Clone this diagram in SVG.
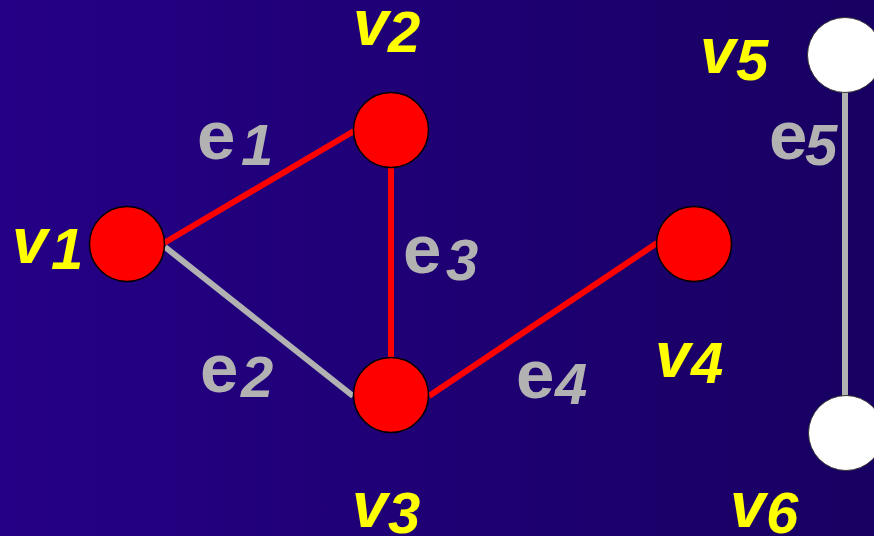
<svg xmlns="http://www.w3.org/2000/svg" width="874" height="536" viewBox="0 0 874 536">
<defs>
<linearGradient id="bg" x1="0" y1="0" x2="1" y2="0">
<stop offset="0" stop-color="#250086"/>
<stop offset="1" stop-color="#180062"/>
</linearGradient>
</defs>
<style>
.red{stroke:#ff0000;stroke-width:6;fill:none}
.gray{stroke:#b2b2b2;stroke-width:6;fill:none}
.rn{fill:#ff0000;stroke:#000;stroke-width:1.5}
.wn{fill:#ffffff;stroke:#333;stroke-width:1}
.lbl{font-family:"Liberation Sans","DejaVu Sans",sans-serif;font-weight:bold}
.vl{fill:#ffff00}
.el{fill:#b2b2b2}
.let{font-size:64px}
.el .let{font-size:69px}
.vl .let{font-style:italic}
.dig{font-size:58px;font-style:italic}
</style>
<rect width="874" height="536" fill="url(#bg)"/>
<g id="connectors">
<line class="red" x1="164" y1="243" x2="354" y2="131"/>
<line class="gray" x1="165" y1="247" x2="353" y2="396"/>
<line class="red" x1="391" y1="168" x2="391" y2="358"/>
<line class="red" x1="429" y1="396" x2="657" y2="243"/>
<line class="gray" x1="845" y1="92" x2="845" y2="396"/>
</g>
<g id="v1"><circle class="rn" cx="127" cy="244" r="37.5"/>
<text class="lbl vl"><tspan class="let" x="12" y="263">v</tspan><tspan class="dig" x="51" y="269">1</tspan></text></g>
<g id="v2"><circle class="rn" cx="391" cy="130" r="37.5"/>
<text class="lbl vl"><tspan class="let" x="353" y="45">v</tspan><tspan class="dig" x="388" y="52">2</tspan></text></g>
<g id="v3"><circle class="rn" cx="391" cy="395" r="37.5"/>
<text class="lbl vl"><tspan class="let" x="352" y="527">v</tspan><tspan class="dig" x="388" y="533">3</tspan></text></g>
<g id="v4"><circle class="rn" cx="694" cy="244" r="37.5"/>
<text class="lbl vl"><tspan class="let" x="655" y="377">v</tspan><tspan class="dig" x="691" y="383">4</tspan></text></g>
<g id="v5"><circle class="wn" cx="845" cy="55" r="37.5"/>
<text class="lbl vl"><tspan class="let" x="700" y="73">v</tspan><tspan class="dig" x="736" y="80">5</tspan></text></g>
<g id="v6"><circle class="wn" cx="846" cy="433" r="37.5"/>
<text class="lbl vl"><tspan class="let" x="730" y="527">v</tspan><tspan class="dig" x="766" y="533">6</tspan></text></g>
<g id="edge-labels">
<text class="lbl el"><tspan class="let" x="197" y="159">e</tspan><tspan class="dig" x="241" y="165">1</tspan></text>
<text class="lbl el"><tspan class="let" x="200" y="392">e</tspan><tspan class="dig" x="241" y="397">2</tspan></text>
<text class="lbl el"><tspan class="let" x="403" y="273">e</tspan><tspan class="dig" x="446" y="280">3</tspan></text>
<text class="lbl el"><tspan class="let" x="516" y="398">e</tspan><tspan class="dig" x="555" y="404">4</tspan></text>
<text class="lbl el"><tspan class="let" x="769" y="159">e</tspan><tspan class="dig" x="805" y="165">5</tspan></text>
</g>
</svg>
